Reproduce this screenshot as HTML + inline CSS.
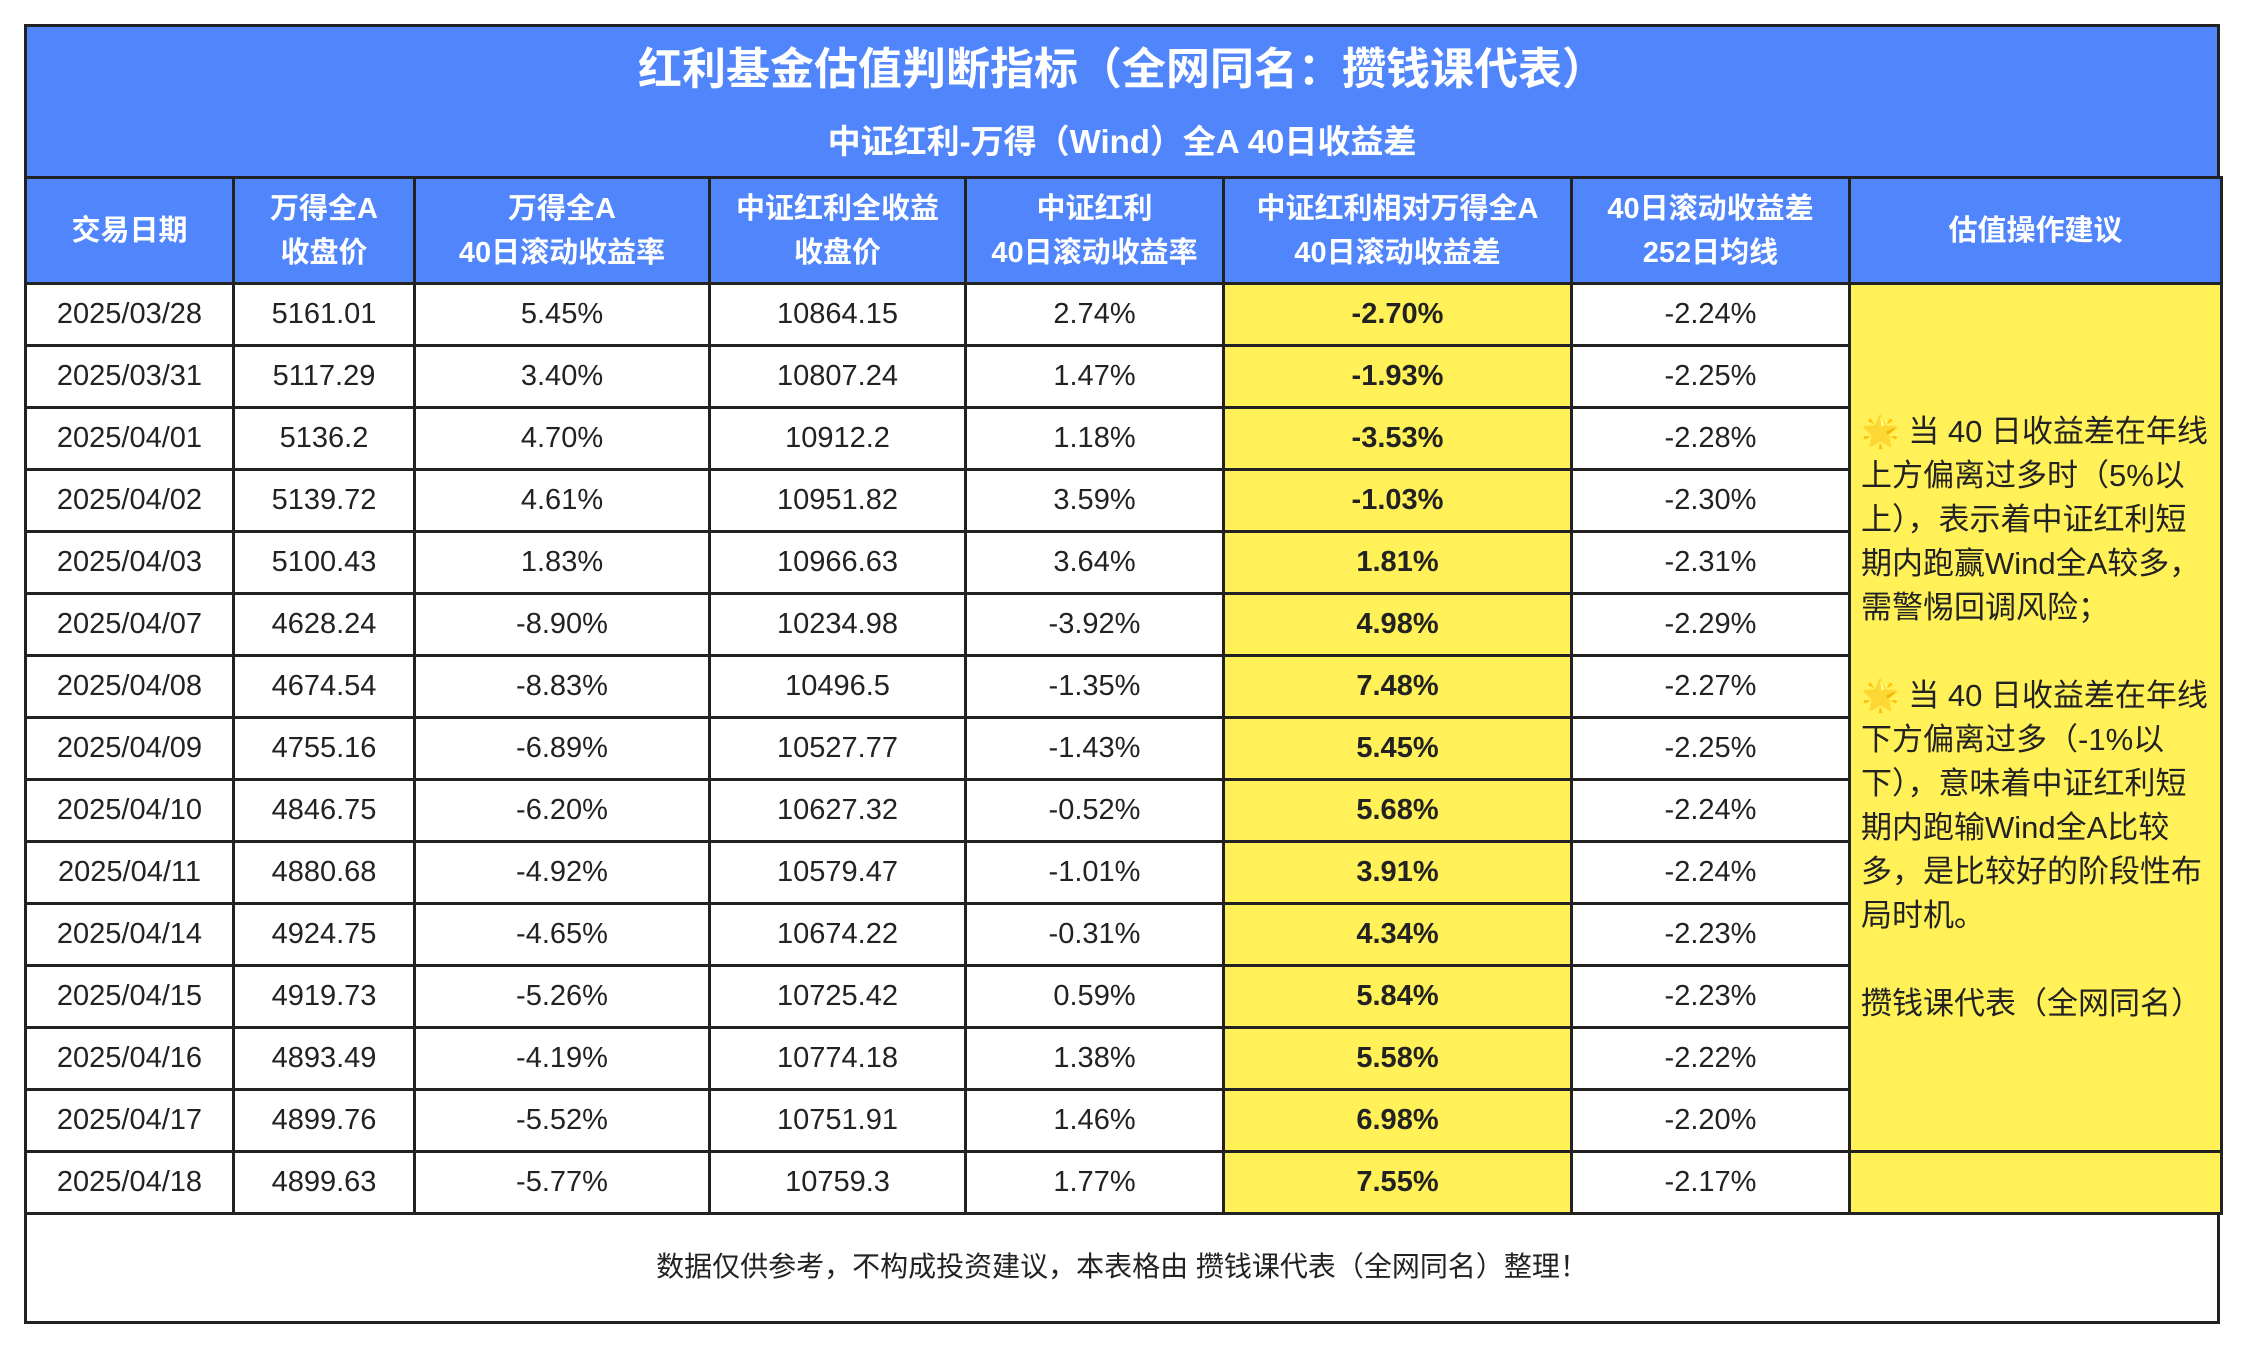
<!DOCTYPE html>
<html><head><meta charset="utf-8">
<style>
html,body{margin:0;padding:0;background:#fff;width:2246px;height:1350px;overflow:hidden}
body{font-family:"Liberation Sans","Noto Sans CJK SC",sans-serif;color:#222}
#wrap{position:absolute;left:24px;top:24px;width:2196px;height:1300px;border:3px solid #222;box-sizing:border-box}
.title{position:absolute;left:0;top:0;width:100%;height:152px;background:#5085fc;color:#fff;text-align:center;font-weight:bold}
.title .t1{position:absolute;top:18px;width:100%;font-size:44px;line-height:50px}
.title .t2{position:absolute;top:95px;width:100%;font-size:33px;line-height:40px}
table{position:absolute;left:-3px;top:149px;width:2196px;border-collapse:collapse;table-layout:fixed}
td,th{border:3px solid #222;text-align:center;font-size:29px;padding:0;overflow:hidden}
th{background:#5085fc;color:#fff;font-weight:bold;height:103px;line-height:44px}
td{height:59px}
td.hl{background:#fff157;font-weight:bold}
td.note{background:#fff157;text-align:left;vertical-align:middle;font-size:31px;line-height:44px;padding:0 6px 0 10px}
.foot{position:absolute;left:0;bottom:0;width:100%;height:108px;line-height:108px;text-align:center;font-size:28px}
</style></head><body>
<div id="wrap">
<div class="title">
<div class="t1">红利基金估值判断指标（全网同名：攒钱课代表）</div>
<div class="t2">中证红利-万得（Wind）全A 40日收益差</div>
</div>
<table id="tbl">
<colgroup><col style="width:208px"><col style="width:181px"><col style="width:295px"><col style="width:256px"><col style="width:258px"><col style="width:348px"><col style="width:278px"><col style="width:372px"></colgroup>
<thead><tr>
<th>交易日期</th>
<th>万得全A<br>收盘价</th>
<th>万得全A<br>40日滚动收益率</th>
<th>中证红利全收益<br>收盘价</th>
<th>中证红利<br>40日滚动收益率</th>
<th>中证红利相对万得全A<br>40日滚动收益差</th>
<th>40日滚动收益差<br>252日均线</th>
<th>估值操作建议</th>
</tr></thead>
<tbody id="tb"></tbody>
</table>
<div class="foot">数据仅供参考，不构成投资建议，本表格由 攒钱课代表（全网同名）整理！</div>
</div>
<script>
const dates=["2025/03/28","2025/03/31","2025/04/01","2025/04/02","2025/04/03","2025/04/07","2025/04/08","2025/04/09","2025/04/10","2025/04/11","2025/04/14","2025/04/15","2025/04/16","2025/04/17","2025/04/18"];
const windClose=["5161.01","5117.29","5136.2","5139.72","5100.43","4628.24","4674.54","4755.16","4846.75","4880.68","4924.75","4919.73","4893.49","4899.76","4899.63"];
const windRet=["5.45%","3.40%","4.70%","4.61%","1.83%","-8.90%","-8.83%","-6.89%","-6.20%","-4.92%","-4.65%","-5.26%","-4.19%","-5.52%","-5.77%"];
const divClose=["10864.15","10807.24","10912.2","10951.82","10966.63","10234.98","10496.5","10527.77","10627.32","10579.47","10674.22","10725.42","10774.18","10751.91","10759.3"];
const divRet=["2.74%","1.47%","1.18%","3.59%","3.64%","-3.92%","-1.35%","-1.43%","-0.52%","-1.01%","-0.31%","0.59%","1.38%","1.46%","1.77%"];
const spread=["-2.70%","-1.93%","-3.53%","-1.03%","1.81%","4.98%","7.48%","5.45%","5.68%","3.91%","4.34%","5.84%","5.58%","6.98%","7.55%"];
const spreadMA=["-2.24%","-2.25%","-2.28%","-2.30%","-2.31%","-2.29%","-2.27%","-2.25%","-2.24%","-2.24%","-2.23%","-2.23%","-2.22%","-2.20%","-2.17%"];
const tb=document.getElementById('tb');
function cell(tr,txt,name,cls){
  const td=document.createElement('td');
  td.textContent=txt;
  if(cls)td.className=cls;
  
  
  tr.appendChild(td);
  return td;
}
for(let i=0;i<dates.length;i++){
  const tr=document.createElement('tr');
  
  
  cell(tr,dates[i],'date-cell');
  cell(tr,windClose[i],'wind-close-cell');
  cell(tr,windRet[i],'wind-return-cell');
  cell(tr,divClose[i],'div-close-cell');
  cell(tr,divRet[i],'div-return-cell');
  cell(tr,spread[i],'spread-cell','hl');
  cell(tr,spreadMA[i],'spread-ma-cell');
  if(i===0){
    const n=cell(tr,'','advice-note','note');
    n.rowSpan=dates.length-1;
    n.innerHTML='🌟 当 40 日收益差在年线上方偏离过多时（5%以上），表示着中证红利短期内跑赢Wind全A较多，需警惕回调风险；<br><br>🌟 当 40 日收益差在年线下方偏离过多（-1%以下），意味着中证红利短期内跑输Wind全A比较多，是比较好的阶段性布局时机。<br><br>攒钱课代表（全网同名）';
  }
  if(i===dates.length-1){
    cell(tr,'','advice-blank','hl');
  }
  tb.appendChild(tr);
}
</script>
</body></html>
